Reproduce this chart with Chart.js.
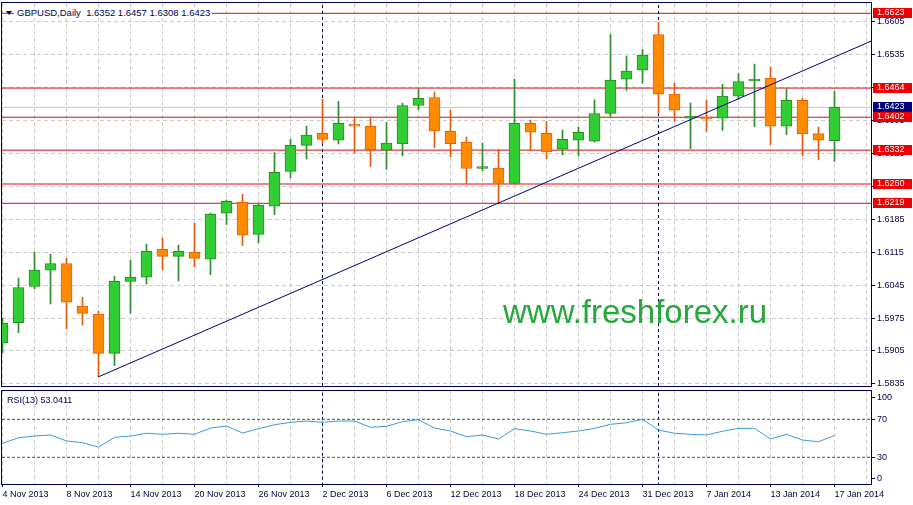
<!DOCTYPE html>
<html>
<head>
<meta charset="utf-8">
<script src="https://cdn.jsdelivr.net/npm/chart.js@4.4.0/dist/chart.umd.min.js"></script>
<style>
  body { margin: 0; background: #fff; }
  #wrap { position: relative; width: 913px; height: 505px; overflow: hidden; font-family: "Liberation Sans", Arial, sans-serif; }
  #priceChart { position: absolute; left: 0; top: 0; }
  #rsiChart { position: absolute; left: 0; top: 389px; }
  .title { position: absolute; left: 14px; top: 7px; padding: 0 2px 0 3px; background: #fff; color: #000050; font-size: 9.5px; line-height: 11px; white-space: pre; }
  .tri { position: absolute; left: 6px; top: 11px; width: 0; height: 0; border-left: 3px solid transparent; border-right: 3px solid transparent; border-top: 4px solid #000060; }
  .rsiLabel { position: absolute; left: 7px; top: 395px; color: #000050; font-size: 9px; line-height: 11px; white-space: pre; }
  .mark { position: absolute; left: 503px; top: 294px; color: #26a83a; font-size: 33px; line-height: 36px; white-space: nowrap; }
</style>
</head>
<body>
<div id="wrap">
  <canvas id="priceChart" width="913" height="389"></canvas>
  <canvas id="rsiChart" width="913" height="116"></canvas>
  <div class="tri"></div>
  <div class="title" id="title"></div>
  <div class="rsiLabel" id="rsiLabel"></div>
  <div class="mark">www.freshforex.ru</div>
</div>
<script>
// GBPUSD daily, 4 Nov 2013 - 17 Jan 2014
const dates = [
  '4 Nov 2013','5 Nov 2013','6 Nov 2013','7 Nov 2013','8 Nov 2013','11 Nov 2013','12 Nov 2013','13 Nov 2013','14 Nov 2013','15 Nov 2013',
  '18 Nov 2013','19 Nov 2013','20 Nov 2013','21 Nov 2013','22 Nov 2013','25 Nov 2013','26 Nov 2013','27 Nov 2013','28 Nov 2013','29 Nov 2013',
  '2 Dec 2013','3 Dec 2013','4 Dec 2013','5 Dec 2013','6 Dec 2013','9 Dec 2013','10 Dec 2013','11 Dec 2013','12 Dec 2013','13 Dec 2013',
  '16 Dec 2013','17 Dec 2013','18 Dec 2013','19 Dec 2013','20 Dec 2013','23 Dec 2013','24 Dec 2013','26 Dec 2013','27 Dec 2013','30 Dec 2013',
  '31 Dec 2013','2 Jan 2014','3 Jan 2014','6 Jan 2014','7 Jan 2014','8 Jan 2014','9 Jan 2014','10 Jan 2014','13 Jan 2014','14 Jan 2014',
  '15 Jan 2014','16 Jan 2014','17 Jan 2014'
];
const opens = [
  1.5922,1.5965,1.6042,1.6077,1.6091,1.6000,1.5983,1.5900,1.6053,1.6062,
  1.6121,1.6106,1.6115,1.6100,1.6198,1.6221,1.6153,1.6213,1.6287,1.6342,
  1.6368,1.6353,1.6387,1.6383,1.6332,1.6345,1.6427,1.6444,1.6372,1.6349,
  1.6293,1.6294,1.6261,1.6389,1.6368,1.6334,1.6353,1.6351,1.6410,1.6483,
  1.6502,1.6578,1.6451,1.6400,1.6402,1.6400,1.6447,1.6479,1.6485,1.6383,
  1.6438,1.6367,1.6352
];
const highs = [
  1.5975,1.6060,1.6115,1.6111,1.6102,1.6019,1.5990,1.6064,1.6098,1.6132,
  1.6145,1.6130,1.6177,1.6198,1.6226,1.6238,1.6217,1.6327,1.6355,1.6383,
  1.6440,1.6436,1.6400,1.6400,1.6391,1.6432,1.6462,1.6456,1.6417,1.6360,
  1.6347,1.6334,1.6483,1.6396,1.6393,1.6375,1.6381,1.6439,1.6578,1.6532,
  1.6546,1.6604,1.6474,1.6432,1.6439,1.6472,1.6495,1.6515,1.6508,1.6462,
  1.6442,1.6381,1.6457
];
const lows = [
  1.5901,1.5944,1.6037,1.6005,1.5952,1.5960,1.5850,1.5874,1.5985,1.6047,
  1.6078,1.6054,1.6084,1.6067,1.6174,1.6129,1.6135,1.6195,1.6273,1.6313,
  1.6345,1.6345,1.6325,1.6297,1.6291,1.6320,1.6418,1.6337,1.6318,1.6260,
  1.6288,1.6219,1.6260,1.6332,1.6314,1.6322,1.6320,1.6349,1.6404,1.6459,
  1.6474,1.6410,1.6393,1.6335,1.6371,1.6374,1.6440,1.6382,1.6344,1.6365,
  1.6320,1.6312,1.6308
];
const closes = [
  1.5964,1.6040,1.6077,1.6091,1.6009,1.5985,1.5900,1.6053,1.6062,1.6117,
  1.6106,1.6117,1.6102,1.6196,1.6223,1.6151,1.6215,1.6285,1.6342,1.6364,
  1.6355,1.6389,1.6383,1.6333,1.6347,1.6427,1.6442,1.6373,1.6346,1.6293,
  1.6297,1.6261,1.6389,1.6370,1.6328,1.6355,1.6370,1.6410,1.6481,1.6500,
  1.6534,1.6451,1.6417,1.6404,1.6398,1.6447,1.6478,1.6480,1.6383,1.6438,
  1.6367,1.6353,1.6423
];
const rsi = [
  44.7,50.6,52.4,53.5,47.2,45.4,40.8,51.0,52.4,55.3,
  54.2,55.3,54.2,60.8,62.9,55.6,60.1,64.3,66.8,68.2,
  66.8,68.2,68.2,61.6,62.6,67.5,69.6,60.8,57.7,51.7,
  53.5,49.3,60.1,57.7,54.2,55.9,57.7,60.5,64.7,66.4,
  70.0,58.7,55.3,54.2,53.5,57.4,60.5,60.5,49.3,54.2,
  48.2,46.4,53.0411
];
const levels = [1.6623, 1.6464, 1.6402, 1.6332, 1.6260, 1.6219];
const lastPrice = 1.6423;
const priceTicks = [1.5835,1.5905,1.5975,1.6045,1.6115,1.6185,1.6255,1.6325,1.6395,1.6465,1.6535,1.6605];
const rsiLevels = [70, 30];
const rsiTicks = [100, 70, 30, 0];
const trendX = [6, 54.3];
const trendY = [1.5850, 1.6564];
const separators = [20, 41];

const xMin = -0.03125, xMax = 54.28125;
const yMin = 1.58305, yMax = 1.66449;
const navy = '#000050';
const font9 = { family: 'Liberation Sans', size: 9 };
const gridBars = [];
for (let i = 0; i <= 54; i += 2) gridBars.push(i);

const last = opens.length - 1;
document.getElementById('title').textContent = 'GBPUSD,Daily  ' +
  [opens[last], highs[last], lows[last], closes[last]].map(v => v.toFixed(4)).join(' ');
document.getElementById('rsiLabel').textContent = 'RSI(13) ' + rsi[last].toFixed(4);

const up = opens.map((o, i) => closes[i] >= o);

function xScale(labels) {
  return {
    type: 'linear', min: xMin, max: xMax, offset: false,
    afterBuildTicks: a => { a.ticks = gridBars.map(v => ({ value: v })); },
    afterFit: s => { s.height = labels ? 21 : 3; s.paddingLeft = 0; s.paddingRight = 0; },
    grid: {
      color: '#cccccc', offset: false, drawTicks: labels, tickLength: 3,
      tickColor: c => (c.tick && c.tick.value % 4 === 0) ? navy : 'rgba(0,0,0,0)'
    },
    border: { display: false, dash: [4, 3] },
    ticks: {
      display: labels, autoSkip: false, maxRotation: 0, align: 'start', padding: 2,
      color: '#000040', font: font9,
      callback: v => (v % 4 === 0 && dates[v]) ? dates[v] : ''
    }
  };
}

const frame = {
  id: 'frame',
  afterDatasetsDraw(chart) {
    const a = chart.chartArea, ctx = chart.ctx;
    ctx.save();
    ctx.strokeStyle = navy;
    ctx.lineWidth = 1;
    ctx.strokeRect(a.left - 0.5, a.top - 0.5, a.right - a.left + 1, a.bottom - a.top + 1);
    ctx.restore();
  }
};

const priceBoxes = {
  id: 'priceBoxes',
  afterDraw(chart) {
    const y = chart.scales.y, ctx = chart.ctx, x0 = chart.chartArea.right + 2;
    ctx.save();
    ctx.font = '9px "Liberation Sans"';
    ctx.textBaseline = 'middle';
    ctx.textAlign = 'left';
    const box = (v, bg) => {
      const py = Math.round(y.getPixelForValue(v));
      ctx.fillStyle = bg;
      ctx.fillRect(x0, py - 5, 39, 10);
      ctx.fillStyle = '#fff';
      ctx.fillText(v.toFixed(4), x0 + 4, py);
    };
    levels.forEach(v => box(v, '#ee0000'));
    box(lastPrice, '#000080');
    ctx.restore();
  }
};

const hLine = (v, color, order, dash) => ({
  type: 'line', data: [{ x: xMin, y: v }, { x: xMax, y: v }],
  borderColor: color, borderWidth: 1, borderDash: dash || [], pointRadius: 0, fill: false, order: order
});
const vLine = (x, lo, hi) => ({
  type: 'line', data: [{ x: x, y: lo }, { x: x, y: hi }],
  borderColor: '#000060', borderWidth: 1, borderDash: [3, 3], pointRadius: 0, fill: false, order: 3
});

new Chart(document.getElementById('priceChart'), {
  type: 'bar',
  data: {
    datasets: [
      {
        type: 'line', data: trendX.map((x, i) => ({ x: x, y: trendY[i] })),
        borderColor: '#000080', borderWidth: 1, pointRadius: 0, fill: false, order: 0
      },
      {
        data: opens.map((o, i) => ({ x: i, y: [o, closes[i]] })),
        backgroundColor: up.map(u => u ? '#32cd32' : '#ff8c00'),
        borderColor: up.map(u => u ? '#238c23' : '#e4610a'),
        borderWidth: 1, borderSkipped: false, barThickness: 11, minBarLength: 2,
        grouped: false, order: 1
      },
      {
        data: lows.map((l, i) => ({ x: i, y: [l, highs[i]] })),
        backgroundColor: up.map(u => u ? '#2e8b2e' : '#e25a10'),
        borderWidth: 0, barThickness: 1, grouped: false, order: 2
      },
      ...separators.map(x => vLine(x, yMin, yMax)),
      ...levels.map(v => hLine(v, '#cc1111', 4)),
      hLine(lastPrice, '#c8c8c8', 5)
    ]
  },
  options: {
    responsive: false,
    devicePixelRatio: 1,
    animation: false,
    layout: { padding: { left: 2, top: 3, right: 0, bottom: 0 } },
    plugins: { legend: { display: false }, tooltip: { enabled: false } },
    scales: {
      x: xScale(false),
      y: {
        position: 'right', min: yMin, max: yMax,
        afterBuildTicks: a => { a.ticks = priceTicks.map(v => ({ value: v })); },
        afterFit: s => { s.width = 42; s.paddingTop = 0; s.paddingBottom = 0; },
        grid: { color: '#cccccc', tickLength: 4, tickColor: navy },
        border: { display: false, dash: [4, 3] },
        ticks: { padding: 2, color: '#000040', font: font9, callback: v => v.toFixed(4) }
      }
    }
  },
  plugins: [frame, priceBoxes]
});

new Chart(document.getElementById('rsiChart'), {
  type: 'line',
  data: {
    datasets: [
      {
        data: rsi.map((v, i) => ({ x: i, y: v })),
        borderColor: '#3a9ad9', borderWidth: 1, pointRadius: 0, fill: false, tension: 0, order: 0
      },
      ...rsiLevels.map(v => hLine(v, '#1f6b1f', 1, [3, 2])),
      ...separators.map(x => vLine(x, 0, 100))
    ]
  },
  options: {
    responsive: false,
    devicePixelRatio: 1,
    animation: false,
    layout: { padding: { left: 2, top: 2, right: 0, bottom: 0 } },
    plugins: { legend: { display: false }, tooltip: { enabled: false } },
    scales: {
      x: xScale(true),
      y: {
        position: 'right', min: 1.9, max: 99.8,
        // top and bottom labels sit inside the panel, as in the terminal
        afterBuildTicks: a => { a.ticks = rsiTicks.map(v => ({ value: Math.min(Math.max(v, 8), 93) })); },
        afterFit: s => { s.width = 42; s.paddingTop = 0; s.paddingBottom = 0; },
        grid: { drawOnChartArea: false, tickLength: 4, tickColor: navy },
        border: { display: false },
        ticks: { padding: 2, color: '#000040', font: font9, callback: (v, i) => String(rsiTicks[i]) }
      }
    }
  },
  plugins: [frame]
});
</script>
</body>
</html>
